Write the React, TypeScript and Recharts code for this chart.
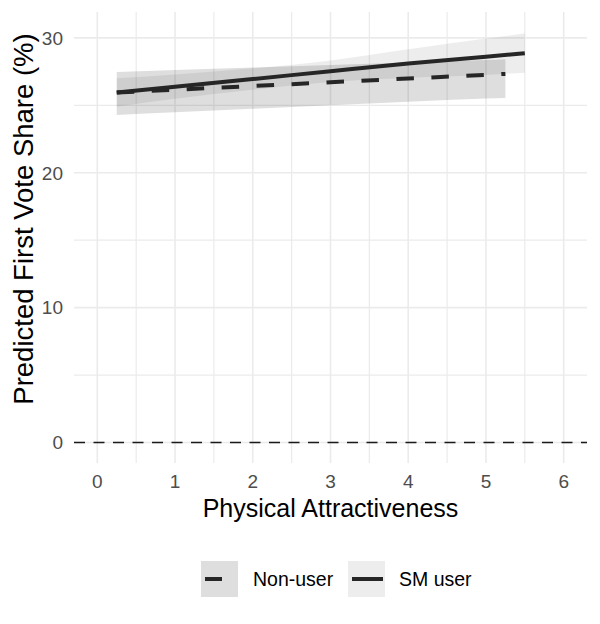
import React from 'react'
import { ComposedChart, Area, Line, XAxis, YAxis, CartesianGrid, ReferenceLine } from 'recharts'

const nonUserX = [0.25, 1, 2, 3, 4, 5, 5.25]
const nonUserFit = [25.95, 26.16, 26.43, 26.71, 26.99, 27.26, 27.33]
const nonUserLow = [24.28, 24.48, 24.74, 25.0, 25.26, 25.5, 25.55]
const nonUserHigh = [27.48, 27.62, 27.8, 27.99, 28.18, 28.36, 28.42]

const smUserX = [0.25, 1, 2, 3, 4, 5, 5.5]
const smUserFit = [25.95, 26.38, 26.95, 27.53, 28.1, 28.6, 28.87]
const smUserLow = [24.9, 25.48, 26.15, 26.73, 27.05, 27.25, 27.42]
const smUserHigh = [27.0, 27.28, 27.75, 28.33, 29.15, 29.95, 30.32]

const xTicks = [0, 1, 2, 3, 4, 5, 6]
const xMinor = [0.5, 1.5, 2.5, 3.5, 4.5, 5.5]
const yTicks = [0, 10, 20, 30]
const yMinor = [5, 15, 25]

const nonUserData = nonUserX.map((x, i) => ({
  x,
  fit: nonUserFit[i],
  band: [nonUserLow[i], nonUserHigh[i]],
}))

const smUserData = smUserX.map((x, i) => ({
  x,
  fit: smUserFit[i],
  band: [smUserLow[i], smUserHigh[i]],
}))

const FONT = '"Liberation Sans", Arial, sans-serif'
const NON_FILL = 'rgba(0,0,0,0.13)'
const SM_FILL = 'rgba(0,0,0,0.07)'
const LINE = '#262626'

export default function App() {
  return (
    <div style={{ position: 'absolute', left: 0, top: 0, width: 600, height: 624, fontFamily: FONT }}>
      <ComposedChart
        width={600}
        height={624}
        margin={{ top: 12, right: 13, left: 14, bottom: 101 }}
      >
        {/* minor grid */}
        <CartesianGrid
          stroke="#ebebeb"
          strokeWidth={1.2}
          horizontalValues={yMinor}
          verticalValues={xMinor}
        />
        {/* major grid */}
        <CartesianGrid
          stroke="#ebebeb"
          strokeWidth={1.6}
          horizontalValues={yTicks}
          verticalValues={xTicks}
        />
        <XAxis
          type="number"
          dataKey="x"
          domain={[-0.3, 6.3]}
          ticks={xTicks}
          allowDataOverflow
          axisLine={false}
          tickLine={false}
          tickSize={0}
          tickMargin={12}
          height={60}
          tick={{ fill: '#4d4d4d', fontSize: 19, fontFamily: FONT }}
          label={{
            value: 'Physical Attractiveness',
            position: 'insideBottom',
            offset: 6,
            fill: '#000',
            fontSize: 25,
            fontFamily: FONT,
          }}
        />
        <YAxis
          type="number"
          domain={[-1.52, 31.92]}
          ticks={yTicks}
          allowDataOverflow
          axisLine={false}
          tickLine={false}
          tickSize={0}
          tickMargin={11}
          width={60}
          tick={{ fill: '#4d4d4d', fontSize: 19, fontFamily: FONT }}
          label={{
            content: () => (
              <text
                transform="translate(33,219) rotate(-90)"
                textAnchor="middle"
                fill="#000"
                fontSize={27.5}
                fontFamily={FONT}
              >
                Predicted First Vote Share (%)
              </text>
            ),
          }}
        />
        <ReferenceLine y={0} stroke="#1a1a1a" strokeWidth={1.6} strokeDasharray="11 8.5" />

        <Area
          data={nonUserData}
          dataKey="band"
          type="monotone"
          stroke="none"
          fill={NON_FILL}
          fillOpacity={1}
          isAnimationActive={false}
        />
        <Area
          data={smUserData}
          dataKey="band"
          type="monotone"
          stroke="none"
          fill={SM_FILL}
          fillOpacity={1}
          isAnimationActive={false}
        />
        <Line
          data={nonUserData}
          dataKey="fit"
          type="monotone"
          stroke={LINE}
          strokeWidth={4}
          strokeDasharray="17.5 17.5"
          dot={false}
          activeDot={false}
          isAnimationActive={false}
        />
        <Line
          data={smUserData}
          dataKey="fit"
          type="monotone"
          stroke={LINE}
          strokeWidth={4}
          dot={false}
          activeDot={false}
          isAnimationActive={false}
        />
      </ComposedChart>

      {/* legend */}
      <svg width={600} height={50} style={{ position: 'absolute', left: 0, top: 555 }}>
        <rect x={201} y={6} width={37} height={36} fill={NON_FILL} />
        <line x1={205} x2={222} y1={24} y2={24} stroke={LINE} strokeWidth={4} />
        <text x={253} y={31} fontSize={19.5} fill="#000" fontFamily={FONT}>Non-user</text>
        <rect x={348} y={6} width={37} height={36} fill={SM_FILL} />
        <line x1={352} x2={383} y1={24} y2={24} stroke={LINE} strokeWidth={4} />
        <text x={399} y={31} fontSize={19.5} fill="#000" fontFamily={FONT}>SM user</text>
      </svg>
    </div>
  )
}
